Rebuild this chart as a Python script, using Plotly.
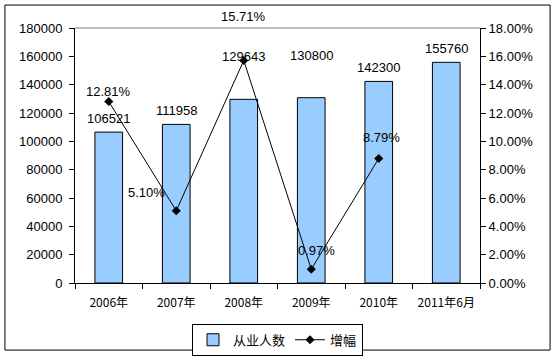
import plotly.graph_objects as go

categories = ["2006年", "2007年", "2008年", "2009年", "2010年", "2011年6月"]
employees = [106521, 111958, 129643, 130800, 142300, 155760]
growth = [12.81, 5.10, 15.71, 0.97, 8.79, None]
growth_labels = ["12.81%", "5.10%", "15.71%", "0.97%", "8.79%", None]
left_ticks = [0, 20000, 40000, 60000, 80000, 100000, 120000, 140000, 160000, 180000]
left_tick_labels = [str(v) for v in left_ticks]
right_ticks = [0, 2, 4, 6, 8, 10, 12, 14, 16, 18]
right_tick_labels = [f"{v:.2f}%" for v in right_ticks]

# label offsets (styling, pixels)
bar_label_shift = [14, 14, 43, 42, 14, 14]
growth_label_xshift = [0, -30, 0, 5, 3, 0]
growth_label_yshift = [10, 18, 44, 19, 21, 0]

LAT = "Liberation Sans, Arial, sans-serif"
CJK = "Noto Sans CJK SC, sans-serif"

fig = go.Figure()
fig.add_trace(go.Bar(
    x=categories, y=employees, name="从业人数", width=0.41,
    marker=dict(color="#99CCFF", line=dict(color="black", width=1)),
    yaxis="y",
))
fig.add_trace(go.Scatter(
    x=categories, y=growth, name="增幅", mode="lines+markers",
    line=dict(color="black", width=1),
    marker=dict(symbol="diamond", size=7, color="black"),
    yaxis="y2",
))

for c, v, s in zip(categories, employees, bar_label_shift):
    fig.add_annotation(x=c, y=v, yref="y", text=str(v), showarrow=False,
                       yshift=s, font=dict(family=LAT, size=13, color="black"))
for c, v, t, xs, ys in zip(categories, growth, growth_labels, growth_label_xshift, growth_label_yshift):
    if v is None:
        continue
    fig.add_annotation(x=c, y=v, yref="y2", text=t, showarrow=False,
                       xshift=xs, yshift=ys, font=dict(family=LAT, size=13, color="black"))

fig.update_layout(
    width=557, height=357,
    margin=dict(l=75, r=77, t=28, b=74, autoexpand=False),
    paper_bgcolor="white", plot_bgcolor="white",
    showlegend=True,
    legend=dict(orientation="h", x=0.5, xanchor="center", y=-0.16, yanchor="top",
                bordercolor="black", borderwidth=1, font=dict(family=CJK, size=13, color="black"),
                itemwidth=30, tracegroupgap=0),
    xaxis=dict(type="category", showline=True, linecolor="black", linewidth=1,
               ticks="outside", ticklen=5, tickcolor="black", tickson="boundaries",
               tickfont=dict(family=CJK, size=12, color="black"), showgrid=False,
               ticklabelstandoff=9),
    yaxis=dict(range=[0, 180000], tickvals=left_ticks, ticktext=left_tick_labels, showline=True,
               linecolor="black", linewidth=1, ticks="outside", ticklen=5, tickcolor="black",
               showgrid=False, tickfont=dict(family=LAT, size=13, color="black"), zeroline=False,
               ticklabelstandoff=4),
    yaxis2=dict(range=[0, 18], tickvals=right_ticks, ticktext=right_tick_labels, overlaying="y",
                side="right", showline=True, linecolor="black", linewidth=1, ticks="outside",
                ticklen=5, tickcolor="black", showgrid=False, zeroline=False,
                tickfont=dict(family=LAT, size=13, color="black")),
    bargap=0.59,
)
fig.add_shape(type="line", xref="paper", yref="paper", x0=0, x1=1, y0=1, y1=1,
              line=dict(color="#808080", width=1))
fig.add_shape(type="rect", xref="paper", yref="paper", x0=-0.173, x1=1.173, y0=-0.263, y1=1.09,
              line=dict(color="black", width=1))

fig.write_html("out.html", config={"displayModeBar": False},
               post_script="document.body.style.margin='0';")
